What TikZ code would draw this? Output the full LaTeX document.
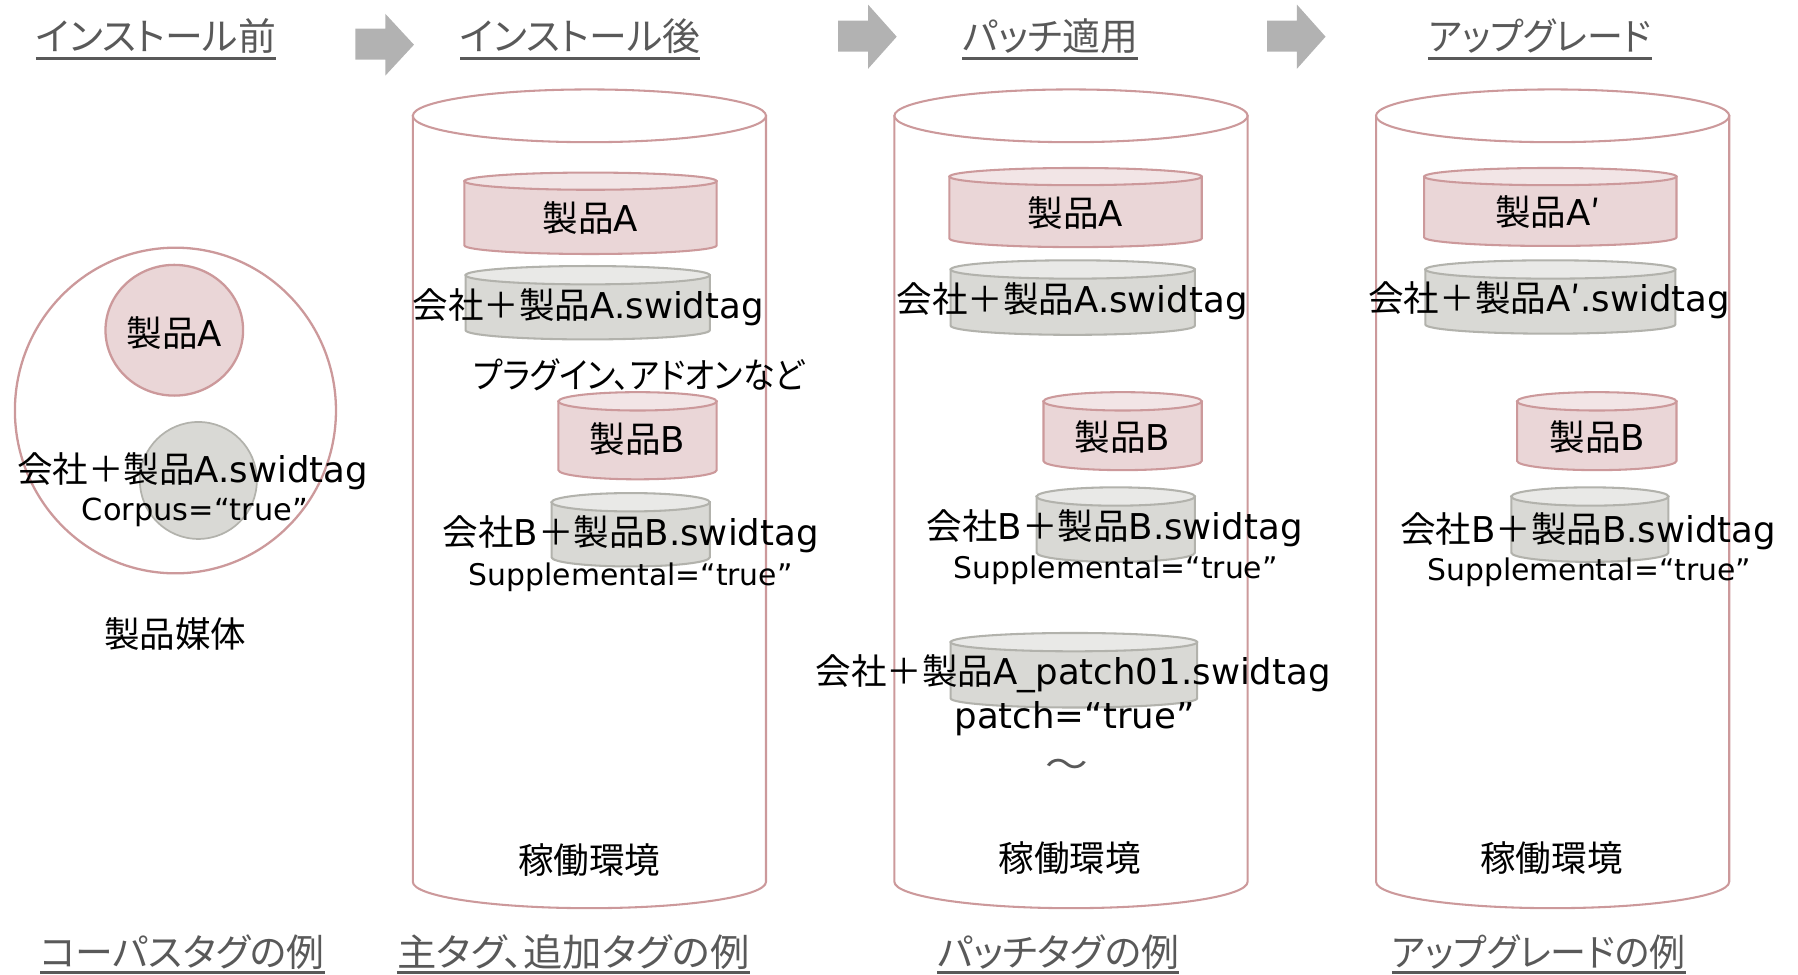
\documentclass[tikz,border=0pt]{standalone}
\usepackage{fontspec}
\setmainfont{DejaVu Sans}
\newfontfamily\jp[RawFeature=+palt]{Noto Sans CJK JP}
\newcommand\J[1]{{\jp #1}}
\definecolor{pinkline}{RGB}{204,153,155}
\definecolor{pinkfill}{RGB}{234,214,215}
\definecolor{pinktop}{RGB}{242,229,230}
\definecolor{grayfill}{RGB}{217,217,213}
\definecolor{graytop}{RGB}{233,233,231}
\definecolor{grayline}{RGB}{178,178,172}
\definecolor{arrowc}{RGB}{178,178,178}
\definecolor{titlec}{RGB}{89,89,89}
% x1 x2 ytop ybot ry bodyfill topfill drawcolor
\newcommand\mycyl[8]{%
  \filldraw[fill=#6,draw=#8,line width=1.8pt] (#1,#3) -- (#1,#4)
    arc[start angle=180,end angle=0,x radius={(#2-#1)/2},y radius=#5] -- (#2,#3) -- cycle;
  \filldraw[fill=#7,draw=#8,line width=1.8pt] ({(#1+#2)/2},#3) ellipse [x radius={(#2-#1)/2},y radius=#5];
}
\begin{document}
\begin{tikzpicture}[x=1pt,y=-1pt,
  txt/.style={inner sep=0pt,font=\fontsize{31}{37}\selectfont,text=black},
  sm/.style={inner sep=0pt,font=\fontsize{26}{31}\selectfont,text=black},
  ttl/.style={inner sep=0pt,anchor=base,font=\jp\fontsize{33}{40}\selectfont,text=titlec},
  ul/.style={draw=titlec,line width=3pt}]
\useasboundingbox (0,0) rectangle (1568,850);

% ---- titles ----
\node[ttl] (t1) at (136,44) {インストール前};
\node[ttl] (t2) at (506,44) {インストール後};
\node[ttl] (t3) at (916,44) {パッチ適用};
\node[ttl] (t4) at (1343,44) {\scalebox{0.95}[1]{アップグレード}};
\foreach \n in {t1,t2,t3,t4}{\draw[ul] ([yshift=-7pt]\n.base west) -- ([yshift=-7pt]\n.base east);}

\node[ttl] (b1) at (159,843) {コーパスタグの例};
\node[ttl] (b2) at (500,843) {\scalebox{1.04}[1]{主タグ、追加タグの例}};
\node[ttl] (b3) at (923,843) {パッチタグの例};
\node[ttl] (b4) at (1342,843) {\scalebox{0.95}[1]{アップグレードの例}};
\foreach \n in {b1,b2,b3,b4}{\draw[ul] ([yshift=-5pt]\n.base west) -- ([yshift=-5pt]\n.base east);}

% ---- arrows ----
\fill[arrowc] (310,25) -- (336,25) -- (336,12) -- (361,39) -- (336,66) -- (336,52) -- (310,52) -- cycle;
\fill[arrowc] (731,18) -- (757,18) -- (757,4) -- (782,32) -- (757,60) -- (757,45) -- (731,45) -- cycle;
\fill[arrowc] (1105,18) -- (1131,18) -- (1131,4) -- (1156,32) -- (1131,60) -- (1131,45) -- (1105,45) -- cycle;

% ---- left: product media ----
\filldraw[fill=white,draw=pinkline,line width=2pt] (153,358) ellipse [x radius=140,y radius=142];
\filldraw[fill=pinkfill,draw=pinkline,line width=2pt] (152,288) ellipse [x radius=60,y radius=57];
\filldraw[fill=grayfill,draw=grayline,line width=1.5pt] (173,419) circle [radius=51];
\node[txt] (lA) at (152,290) {\J{製品}A};
\node[txt] (lT) at (168,411) {\J{会社＋製品}A.swidtag};
\node[sm,font=\fontsize{26.5}{31}\selectfont] (lC) at (170,447) {Corpus=“true”};
\node[txt] (lM) at (153,553) {\J{製品媒体}};

% ---- cylinder 1 ----
\mycyl{360}{668}{101}{769}{23}{white}{white}{pinkline}
\mycyl{405}{625}{158}{214}{7.5}{pinkfill}{pinktop}{pinkline}
\mycyl{406}{619}{240}{288}{8}{grayfill}{graytop}{grayline}
\mycyl{487}{625}{350}{410}{8}{pinkfill}{pinktop}{pinkline}
\mycyl{481}{619}{438}{486}{8}{grayfill}{graytop}{grayline}
\node[txt] (c1a) at (515,190) {\J{製品}A};
\node[txt] (c1t) at (513,268) {\J{会社＋製品}A.swidtag};
\node[txt] (c1p) at (557,327) {\scalebox{0.9}[1]{\J{プラグイン、アドオンなど}}};
\node[txt] (c1b) at (556,383) {\J{製品}B};
\node[txt] (c1bt) at (550,466) {\J{会社}B\J{＋製品}B.swidtag};
\node[sm] (c1s) at (550,503) {Supplemental=“true”};
\node[txt] (c1e) at (514,750) {\J{稼働環境}};

% ---- cylinder 2 ----
\mycyl{780}{1088}{101}{769}{23}{white}{white}{pinkline}
\mycyl{828}{1048}{154}{208}{7.5}{pinkfill}{pinktop}{pinkline}
\mycyl{829}{1042}{235}{284}{8}{grayfill}{graytop}{grayline}
\mycyl{910}{1048}{350}{402}{8}{pinkfill}{pinktop}{pinkline}
\mycyl{904}{1042}{433}{482}{8}{grayfill}{graytop}{grayline}
\mycyl{829}{1044}{560}{609}{8}{grayfill}{graytop}{grayline}
\node[txt] (c2a) at (938,186) {\J{製品}A};
\node[txt] (c2t) at (935,263) {\J{会社＋製品}A.swidtag};
\node[txt] (c2b) at (979,381) {\J{製品}B};
\node[txt] (c2bt) at (972,461) {\J{会社}B\J{＋製品}B.swidtag};
\node[sm] (c2s) at (973,497) {Supplemental=“true”};
\node[txt] (c2pt) at (936,588) {\J{会社＋製品}A\_patch01.swidtag};
\node[txt] (c2pp) at (937,627) {patch=“true”};
\node[txt,text=titlec] (c2w) at (930,670) {\scalebox{1.2}[1]{\J{〜}}};
\node[txt] (c2e) at (933,748) {\J{稼働環境}};

% ---- cylinder 3 ----
\mycyl{1200}{1508}{101}{769}{23}{white}{white}{pinkline}
\mycyl{1242}{1462}{154}{207}{7.5}{pinkfill}{pinktop}{pinkline}
\mycyl{1243}{1461}{235}{283}{8}{grayfill}{graytop}{grayline}
\mycyl{1323}{1462}{350}{402}{8}{pinkfill}{pinktop}{pinkline}
\mycyl{1318}{1455}{433}{482}{8}{grayfill}{graytop}{grayline}
\node[txt] (c3a) at (1350,185) {\J{製品}A\J{′}};
\node[txt] (c3t) at (1351,262) {\J{会社＋製品}A\J{′}.swidtag};
\node[txt] (c3b) at (1393,381) {\J{製品}B};
\node[txt] (c3bt) at (1385,463) {\J{会社}B\J{＋製品}B.swidtag};
\node[sm] (c3s) at (1386,499) {Supplemental=“true”};
\node[txt] (c3e) at (1353,748) {\J{稼働環境}};
\end{tikzpicture}
\end{document}
